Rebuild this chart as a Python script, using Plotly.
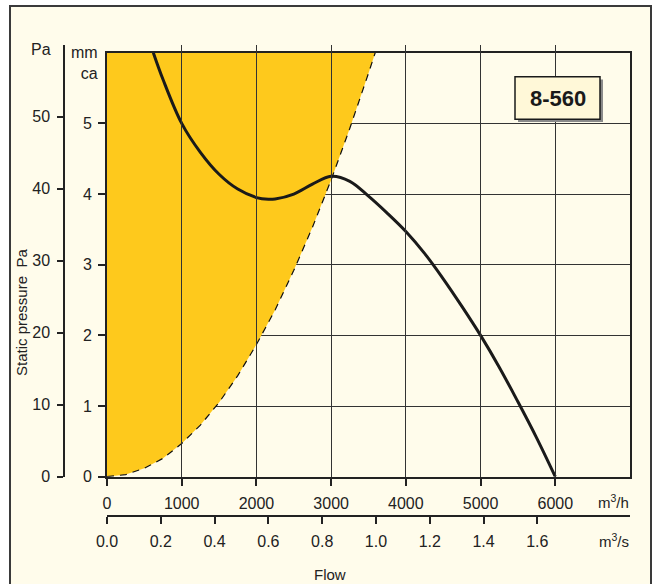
import plotly.graph_objects as go

W, H = 660, 584

# ---- data ----
fan_flow = [620, 750, 1000, 1250, 1500, 1750, 2000, 2160, 2250, 2500, 2750, 3000, 3250, 3500,
            3750, 4000, 4250, 4500, 4750, 5000, 5250, 5500, 5750, 6000]
fan_mmca = [6.0, 5.62, 5.0, 4.59, 4.28, 4.07, 3.95, 3.925, 3.93, 4.0, 4.14, 4.25, 4.18, 3.97,
            3.73, 3.47, 3.16, 2.80, 2.41, 2.0, 1.55, 1.06, 0.55, 0.0]

sys_flow = [0, 250, 500, 750, 1000, 1250, 1500, 1750, 2000, 2250, 2500, 2750, 3000, 3250, 3500, 3590]
sys_mmca = [0, 0.03, 0.12, 0.26, 0.47, 0.73, 1.05, 1.43, 1.87, 2.36, 2.92, 3.53, 4.2, 4.93, 5.71, 6.0]

flow_ticks = [0, 1000, 2000, 3000, 4000, 5000, 6000]
mmca_ticks = [0, 1, 2, 3, 4, 5]
pa_ticks = [0, 10, 20, 30, 40, 50]
m3s_ticks = [0.0, 0.2, 0.4, 0.6, 0.8, 1.0, 1.2, 1.4, 1.6]

model_label = "8-560"

CREAM = "#FFFCEB"
YELLOW = "#FEC91C"
DARK = "#222222"
SANS = "Liberation Sans, Arial, sans-serif"
TICKFONT = dict(family=SANS, size=16, color="#222")


def px(x):
    return x / W


def py(y):
    return 1 - y / H


fig = go.Figure()

# yellow region (left of system curve)
fig.add_trace(go.Scatter(
    x=sys_flow + [0], y=sys_mmca + [6.0],
    fill="toself", fillcolor=YELLOW, mode="lines", line=dict(width=0),
    hoverinfo="skip", showlegend=False))

# dashed system curve
fig.add_trace(go.Scatter(
    x=sys_flow, y=sys_mmca, mode="lines",
    line=dict(color="#111111", width=1.2, dash="7px,6px"),
    hoverinfo="skip", showlegend=False))

# fan curve
fig.add_trace(go.Scatter(
    x=fan_flow, y=fan_mmca, mode="lines",
    line=dict(color="#1a1a1a", width=3, shape="spline", smoothing=1.0),
    showlegend=False))

# dummy traces to activate Pa axis and m3/s axis
fig.add_trace(go.Scatter(x=[0], y=[0], yaxis="y2", mode="markers",
                         marker=dict(opacity=0), hoverinfo="skip", showlegend=False))
fig.add_trace(go.Scatter(x=[0], y=[0], xaxis="x2", mode="markers",
                         marker=dict(opacity=0), hoverinfo="skip", showlegend=False))

x_dom = [px(107), px(630)]
y_dom = [py(476.7), py(52.7)]

fig.update_layout(
    width=W, height=H,
    margin=dict(l=0, r=0, t=0, b=0),
    template="none",
    paper_bgcolor="white",
    plot_bgcolor="rgba(0,0,0,0)",
    showlegend=False,
    xaxis=dict(
        domain=x_dom, range=[0, 7000], anchor="y",
        tickvals=flow_ticks, ticktext=[str(v) for v in flow_ticks],
        ticks="outside", ticklen=7, tickwidth=1.5, tickcolor=DARK,
        showline=True, linewidth=2, linecolor=DARK, mirror=True,
        showgrid=True, gridcolor="#333333", gridwidth=1,
        zeroline=False, automargin=False, ticklabelstandoff=4,
        tickfont=TICKFONT,
    ),
    yaxis=dict(
        domain=y_dom, range=[0, 6], anchor="x",
        tickvals=mmca_ticks,
        ticks="outside", ticklen=7, tickwidth=1.5, tickcolor=DARK,
        showline=True, linewidth=2, linecolor=DARK, mirror=True,
        showgrid=True, gridcolor="#333333", gridwidth=1,
        zeroline=False, automargin=False, ticklabelstandoff=3,
        tickfont=TICKFONT,
    ),
    yaxis2=dict(
        domain=[py(476.7), py(44.7)], range=[0, 60],
        anchor="free", position=px(64), side="left",
        tickvals=pa_ticks,
        ticks="outside", ticklen=6, tickwidth=1.5, tickcolor=DARK,
        showline=True, linewidth=1.5, linecolor=DARK,
        showgrid=False, zeroline=False, automargin=False, ticklabelstandoff=4,
        tickfont=TICKFONT,
    ),
    xaxis2=dict(
        overlaying="x", range=[0, 7000 / 3600],
        anchor="free", position=py(515.7), side="bottom",
        tickvals=m3s_ticks, ticktext=[f"{v:.1f}" for v in m3s_ticks],
        ticks="outside", ticklen=7, tickwidth=1.5, tickcolor=DARK,
        showline=True, linewidth=2, linecolor=DARK,
        showgrid=False, zeroline=False, automargin=False, ticklabelstandoff=4,
        tickfont=TICKFONT,
    ),
)

shapes = [
    # outer frame
    dict(type="rect", xref="paper", yref="paper", layer="below",
         x0=px(10), x1=px(651), y0=py(640), y1=py(6),
         fillcolor=CREAM, line=dict(color="#3a3a3a", width=2)),
    # label box shadow
    dict(type="rect", xref="paper", yref="paper", layer="above",
         x0=px(518), x1=px(603), y0=py(122), y1=py(79.5),
         fillcolor="#8a8a8a", line=dict(width=0)),
    # label box
    dict(type="rect", xref="paper", yref="paper", layer="above",
         x0=px(515), x1=px(600), y0=py(119.3), y1=py(76.7),
         fillcolor="#FFF8D8", line=dict(color="#1a1a1a", width=1.5)),
]
fig.update_layout(shapes=shapes)

ann = [
    dict(text="Pa", x=px(41), y=py(49), font=dict(family=SANS, size=16, color="#222"),
         xanchor="center", yanchor="middle"),
    dict(text="mm<br>ca", x=px(100), y=py(63), align="right",
         font=dict(family=SANS, size=16, color="#222"), xanchor="right", yanchor="middle"),
    dict(text="m<sup>3</sup>/h", x=px(631), y=py(501), font=dict(family=SANS, size=15, color="#222"),
         xanchor="right", yanchor="middle"),
    dict(text="m<sup>3</sup>/s", x=px(631), y=py(540), font=dict(family=SANS, size=15, color="#222"),
         xanchor="right", yanchor="middle"),
    dict(text="Flow", x=px(330), y=py(574), font=dict(family=SANS, size=15, color="#222"),
         xanchor="center", yanchor="middle"),
    dict(text="Static pressure  Pa", x=px(21), y=py(313), textangle=-90,
         font=dict(family=SANS, size=15, color="#222"), xanchor="center", yanchor="middle"),
    dict(text="<b>" + model_label + "</b>", x=px(557.5), y=py(98),
         font=dict(family=SANS, size=22, color="#1a1a1a"), xanchor="center", yanchor="middle"),
]
for a in ann:
    a.update(xref="paper", yref="paper", showarrow=False)
fig.update_layout(annotations=ann)

fig.write_html("out.html", config={"displayModeBar": False},
               post_script="document.body.style.margin='0px';")
